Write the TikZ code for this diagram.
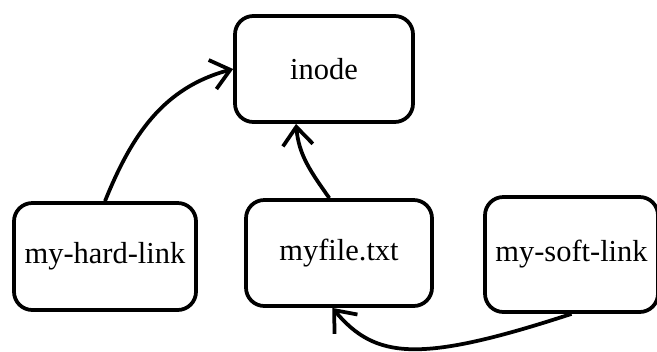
\documentclass[tikz,border=0pt]{standalone}
\usepackage{fontspec}
\setmainfont{Liberation Serif}
\usetikzlibrary{arrows.meta}

\begin{document}
\begin{tikzpicture}[x=0.03cm, y=0.03cm]
  \tikzset{
    box/.style={draw, rectangle, rounded corners=0.55cm, line width=3.2pt, inner sep=0pt, font=\fontsize{26}{30}\selectfont},
    line/.style={draw, line width=3.2pt, -{Straight Barb[length=0.55cm, width=0.9cm]}},
  }
  \useasboundingbox (0,0) rectangle (657,351);
  \node [box, minimum width=5.34cm, minimum height=3.18cm] (inode) at (324,282) {inode};
  \node [box, minimum width=5.46cm, minimum height=3.21cm] (hard) at (105,94.5) {my-hard-link};
  \node [box, minimum width=5.58cm, minimum height=3.18cm] (myfile) at (339,98) {myfile.txt};
  \node [box, minimum width=5.19cm, minimum height=3.45cm] (soft) at (571.5,96.5) {my-soft-link};

  \path [line] (hard.north) to[out=68, in=195] (inode.west);
  \path [line] (myfile.100) to[out=125, in=-85] (inode.243);
  \path [line] (soft.south) .. controls +(-153,-50) and +(43,-51) .. (myfile.263);
\end{tikzpicture}
\end{document}
